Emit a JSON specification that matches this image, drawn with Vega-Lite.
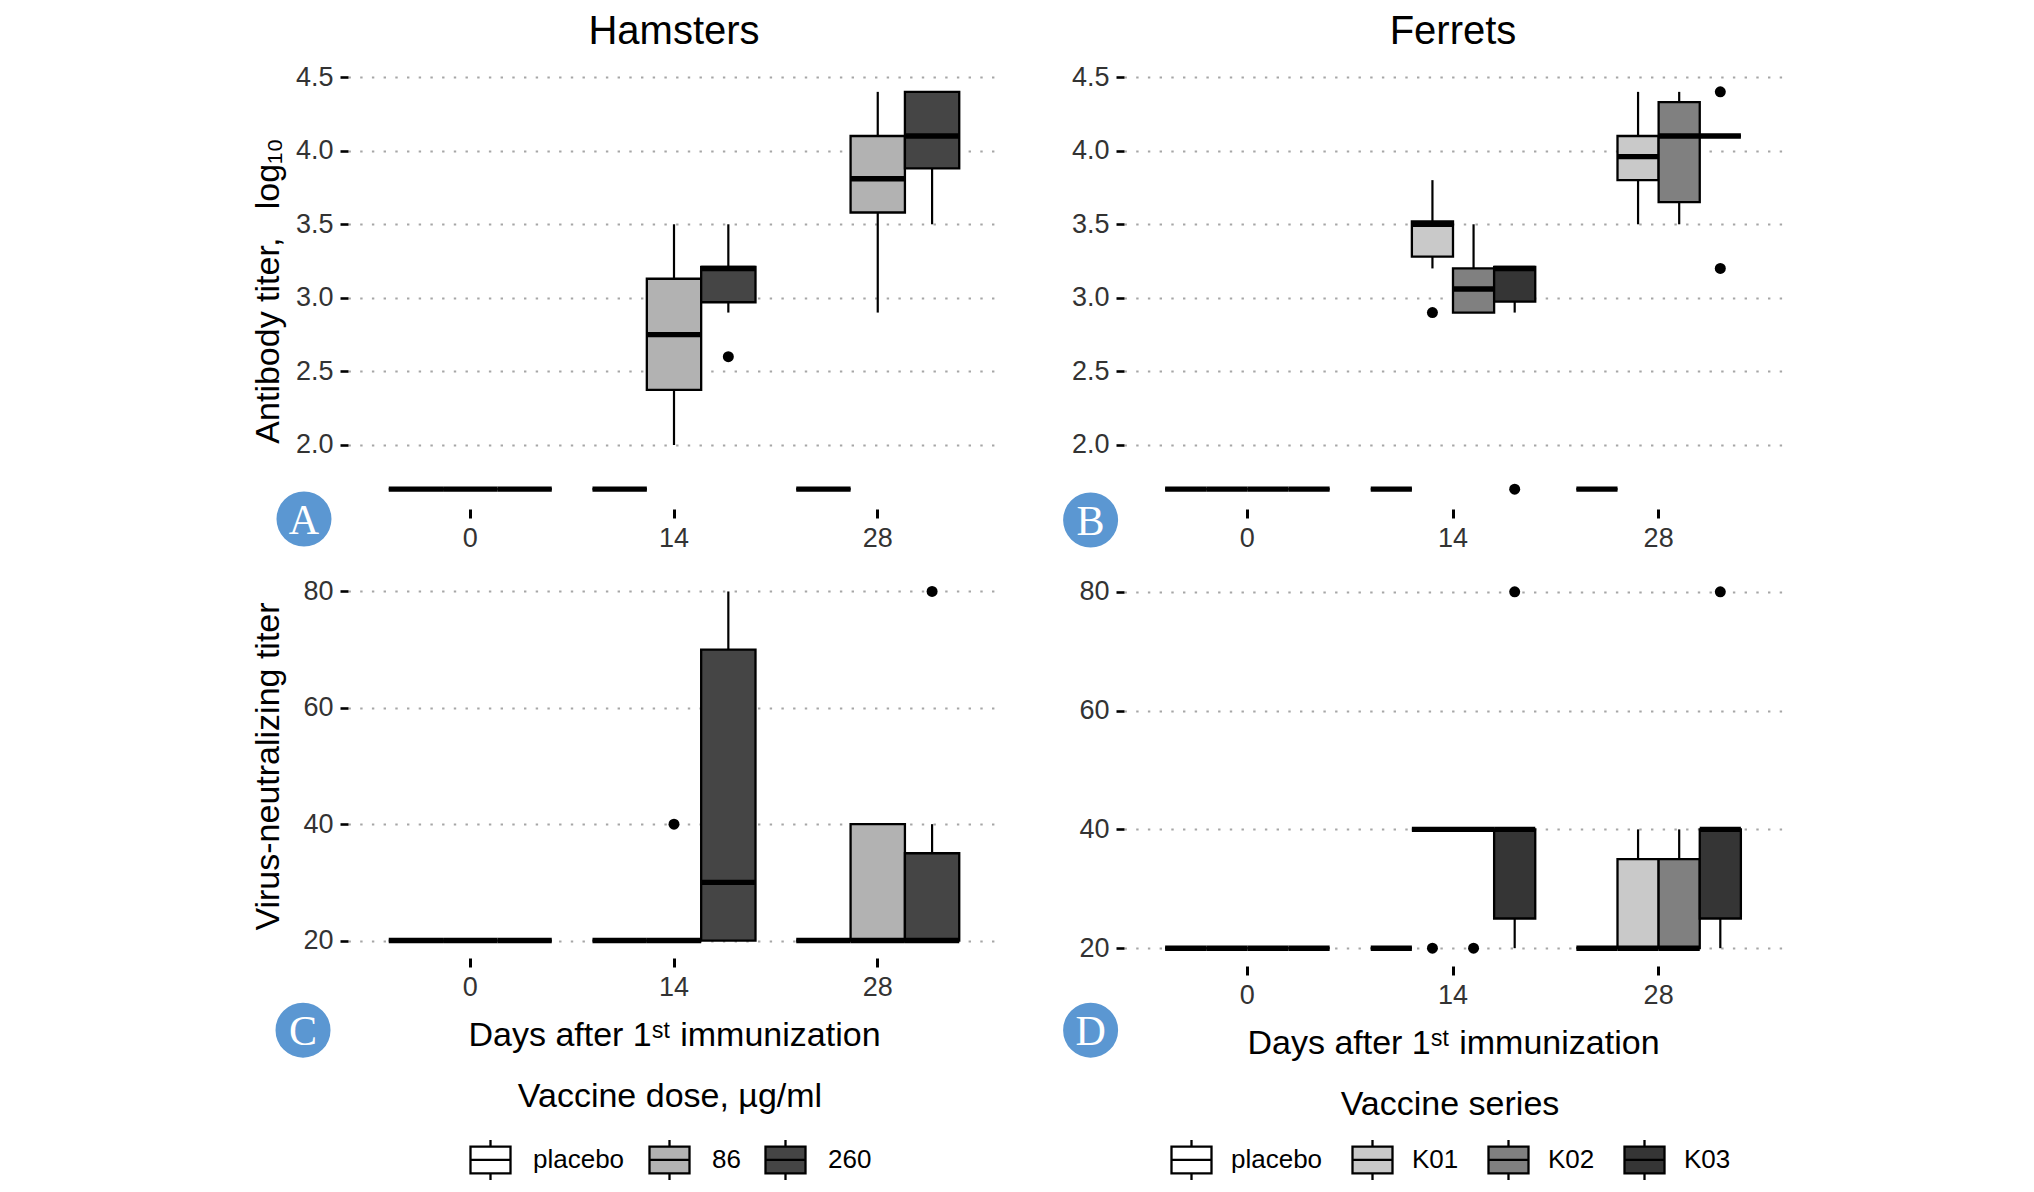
{
"$schema": "https://vega.github.io/schema/vega-lite/v6.json",
"background": "white",
"padding": {"left": 251, "top": 12, "right": 5, "bottom": 5},
"datasets": {
"stats": [
{"p":"A","day":"0","g":"placebo","lo":1.7,"q1":1.7,"med":1.7,"q3":1.7,"hi":1.7},
{"p":"A","day":"0","g":"86","lo":1.7,"q1":1.7,"med":1.7,"q3":1.7,"hi":1.7},
{"p":"A","day":"0","g":"260","lo":1.7,"q1":1.7,"med":1.7,"q3":1.7,"hi":1.7},
{"p":"A","day":"14","g":"placebo","lo":1.7,"q1":1.7,"med":1.7,"q3":1.7,"hi":1.7},
{"p":"A","day":"14","g":"86","lo":2.0,"q1":2.375,"med":2.75,"q3":3.13,"hi":3.5},
{"p":"A","day":"14","g":"260","lo":2.9,"q1":2.97,"med":3.2,"q3":3.21,"hi":3.5},
{"p":"A","day":"28","g":"placebo","lo":1.7,"q1":1.7,"med":1.7,"q3":1.7,"hi":1.7},
{"p":"A","day":"28","g":"86","lo":2.9,"q1":3.58,"med":3.81,"q3":4.1,"hi":4.4},
{"p":"A","day":"28","g":"260","lo":3.5,"q1":3.88,"med":4.1,"q3":4.4,"hi":4.4},
{"p":"B","day":"0","g":"placebo","lo":1.7,"q1":1.7,"med":1.7,"q3":1.7,"hi":1.7},
{"p":"B","day":"0","g":"K01","lo":1.7,"q1":1.7,"med":1.7,"q3":1.7,"hi":1.7},
{"p":"B","day":"0","g":"K02","lo":1.7,"q1":1.7,"med":1.7,"q3":1.7,"hi":1.7},
{"p":"B","day":"0","g":"K03","lo":1.7,"q1":1.7,"med":1.7,"q3":1.7,"hi":1.7},
{"p":"B","day":"14","g":"placebo","lo":1.7,"q1":1.7,"med":1.7,"q3":1.7,"hi":1.7},
{"p":"B","day":"14","g":"K01","lo":3.2,"q1":3.28,"med":3.5,"q3":3.52,"hi":3.8},
{"p":"B","day":"14","g":"K02","lo":2.9,"q1":2.9,"med":3.06,"q3":3.2,"hi":3.5},
{"p":"B","day":"14","g":"K03","lo":2.9,"q1":2.975,"med":3.2,"q3":3.21,"hi":3.21},
{"p":"B","day":"28","g":"placebo","lo":1.7,"q1":1.7,"med":1.7,"q3":1.7,"hi":1.7},
{"p":"B","day":"28","g":"K01","lo":3.5,"q1":3.8,"med":3.96,"q3":4.1,"hi":4.4},
{"p":"B","day":"28","g":"K02","lo":3.5,"q1":3.65,"med":4.1,"q3":4.33,"hi":4.4},
{"p":"B","day":"28","g":"K03","lo":4.1,"q1":4.1,"med":4.1,"q3":4.1,"hi":4.1},
{"p":"C","day":"0","g":"placebo","lo":20,"q1":20,"med":20,"q3":20,"hi":20},
{"p":"C","day":"0","g":"86","lo":20,"q1":20,"med":20,"q3":20,"hi":20},
{"p":"C","day":"0","g":"260","lo":20,"q1":20,"med":20,"q3":20,"hi":20},
{"p":"C","day":"14","g":"placebo","lo":20,"q1":20,"med":20,"q3":20,"hi":20},
{"p":"C","day":"14","g":"86","lo":20,"q1":20,"med":20,"q3":20,"hi":20},
{"p":"C","day":"14","g":"260","lo":20,"q1":20,"med":30,"q3":70,"hi":80},
{"p":"C","day":"28","g":"placebo","lo":20,"q1":20,"med":20,"q3":20,"hi":20},
{"p":"C","day":"28","g":"86","lo":20,"q1":20,"med":20,"q3":40,"hi":40},
{"p":"C","day":"28","g":"260","lo":20,"q1":20,"med":20,"q3":35,"hi":40},
{"p":"D","day":"0","g":"placebo","lo":20,"q1":20,"med":20,"q3":20,"hi":20},
{"p":"D","day":"0","g":"K01","lo":20,"q1":20,"med":20,"q3":20,"hi":20},
{"p":"D","day":"0","g":"K02","lo":20,"q1":20,"med":20,"q3":20,"hi":20},
{"p":"D","day":"0","g":"K03","lo":20,"q1":20,"med":20,"q3":20,"hi":20},
{"p":"D","day":"14","g":"placebo","lo":20,"q1":20,"med":20,"q3":20,"hi":20},
{"p":"D","day":"14","g":"K01","lo":40,"q1":40,"med":40,"q3":40,"hi":40},
{"p":"D","day":"14","g":"K02","lo":40,"q1":40,"med":40,"q3":40,"hi":40},
{"p":"D","day":"14","g":"K03","lo":20,"q1":25,"med":40,"q3":40,"hi":40},
{"p":"D","day":"28","g":"placebo","lo":20,"q1":20,"med":20,"q3":20,"hi":20},
{"p":"D","day":"28","g":"K01","lo":20,"q1":20,"med":20,"q3":35,"hi":40},
{"p":"D","day":"28","g":"K02","lo":20,"q1":20,"med":20,"q3":35,"hi":40},
{"p":"D","day":"28","g":"K03","lo":20,"q1":25,"med":40,"q3":40,"hi":40}
],
"out": [
{"p":"A","day":"14","g":"260","v":2.6},
{"p":"B","day":"14","g":"K01","v":2.9},
{"p":"B","day":"14","g":"K03","v":1.7},
{"p":"B","day":"28","g":"K03","v":4.4},
{"p":"B","day":"28","g":"K03","v":3.2},
{"p":"C","day":"14","g":"86","v":40},
{"p":"C","day":"28","g":"260","v":80},
{"p":"D","day":"14","g":"K01","v":20},
{"p":"D","day":"14","g":"K02","v":20},
{"p":"D","day":"14","g":"K03","v":80},
{"p":"D","day":"28","g":"K03","v":80}
],
"badges": [
{"p":"A","t":"A"},{"p":"B","t":"B"},{"p":"C","t":"C"},{"p":"D","t":"D"}
]
},
"columns": 2,
"align": "each",
"bounds": "flush",
"spacing": {"row": 65, "column": 124},
"resolve": {"scale": {"xOffset": "independent", "fill": "independent", "x": "independent", "y": "independent"}, "legend": {"fill": "independent"}},
"concat": [
{
"width": 652, "height": 437,
"title": {"text": "Hamsters"},
"layer": [
{"data":{"name":"stats"},"transform":[{"filter":"datum.p==='A'"}],"mark":{"type":"rule","color":"black","strokeWidth":2.2},
"encoding":{"x":{"field":"day","type":"nominal","scale":{"domain":["0","14","28"],"paddingInner":0.2,"paddingOuter":0.2},"axis":{"title":null}},
"xOffset":{"field":"g","type":"nominal","scale":{"domain":["placebo","86","260"],"paddingInner":0,"paddingOuter":0}},
"y":{"field":"lo","type":"quantitative","scale":{"domain":[1.565,4.535],"nice":false,"zero":false},"axis":{"values":[2,2.5,3,3.5,4,4.5],"format":".1f","title":"Antibody titer,\u00a0\u00a0\u00a0log₁₀","titlePadding":10}},
"y2":{"field":"q1"}}},
{"data":{"name":"stats"},"transform":[{"filter":"datum.p==='A'"}],"mark":{"type":"rule","color":"black","strokeWidth":2.2},
"encoding":{"x":{"field":"day","type":"nominal","scale":{"domain":["0","14","28"],"paddingInner":0.2,"paddingOuter":0.2},"axis":{"title":null}},
"xOffset":{"field":"g","type":"nominal","scale":{"domain":["placebo","86","260"],"paddingInner":0,"paddingOuter":0}},
"y":{"field":"q3","type":"quantitative","axis":{"values":[2,2.5,3,3.5,4,4.5],"format":".1f","title":"Antibody titer,\u00a0\u00a0\u00a0log₁₀","titlePadding":10}},
"y2":{"field":"hi"}}},
{"data":{"name":"stats"},"transform":[{"filter":"datum.p==='A'"}],"mark":{"type":"bar","stroke":"black","strokeWidth":2.3,"opacity":1},
"encoding":{"x":{"field":"day","type":"nominal","scale":{"domain":["0","14","28"],"paddingInner":0.2,"paddingOuter":0.2},"axis":{"title":null}},
"xOffset":{"field":"g","type":"nominal","scale":{"domain":["placebo","86","260"],"paddingInner":0,"paddingOuter":0}},
"y":{"field":"q1","type":"quantitative","axis":{"values":[2,2.5,3,3.5,4,4.5],"format":".1f","title":"Antibody titer,\u00a0\u00a0\u00a0log₁₀","titlePadding":10}},
"y2":{"field":"q3"},
"fill":{"field":"g","type":"nominal","scale":{"domain":["placebo","86","260"],"range":["#ffffff","#b2b2b2","#454545"]},"legend":null}}},
{"data":{"name":"stats"},"transform":[{"filter":"datum.p==='A'"}],"mark":{"type":"bar","fill":"transparent","stroke":"black","strokeWidth":5.4},
"encoding":{"x":{"field":"day","type":"nominal","scale":{"domain":["0","14","28"],"paddingInner":0.2,"paddingOuter":0.2},"axis":{"title":null}},
"xOffset":{"field":"g","type":"nominal","scale":{"domain":["placebo","86","260"],"paddingInner":0,"paddingOuter":0}},
"y":{"field":"med","type":"quantitative","axis":{"values":[2,2.5,3,3.5,4,4.5],"format":".1f","title":"Antibody titer,\u00a0\u00a0\u00a0log₁₀","titlePadding":10}},
"y2":{"field":"med"}}},
{"data":{"name":"out"},"transform":[{"filter":"datum.p==='A'"}],"mark":{"type":"point","filled":true,"color":"black","size":121,"opacity":1},
"encoding":{"x":{"field":"day","type":"nominal","scale":{"domain":["0","14","28"],"paddingInner":0.2,"paddingOuter":0.2},"axis":{"title":null}},
"xOffset":{"field":"g","type":"nominal","scale":{"domain":["placebo","86","260"],"paddingInner":0,"paddingOuter":0}},
"y":{"field":"v","type":"quantitative","axis":{"values":[2,2.5,3,3.5,4,4.5],"format":".1f","title":"Antibody titer,\u00a0\u00a0\u00a0log₁₀","titlePadding":10}}}},
{"data":{"name":"badges"},"transform":[{"filter":"datum.p==='A'"}],"mark":{"type":"point","filled":true,"color":"#5B97D2","size":3025,"opacity":1},
"encoding":{"x":{"datum":"0","type":"nominal","bandPosition":-0.52},"y":{"datum":1.497,"type":"quantitative"}}},
{"data":{"name":"badges"},"transform":[{"filter":"datum.p==='A'"}],"mark":{"type":"text","font":"Liberation Serif","fontSize":42,"color":"white","baseline":"middle","align":"center","dy":2},
"encoding":{"x":{"datum":"0","type":"nominal","bandPosition":-0.52},"y":{"datum":1.497,"type":"quantitative"},"text":{"field":"t"}}}
]
},
{
"width": 658, "height": 437,
"title": {"text": "Ferrets"},
"layer": [
{"data":{"name":"stats"},"transform":[{"filter":"datum.p==='B'"}],"mark":{"type":"rule","color":"black","strokeWidth":2.2},
"encoding":{"x":{"field":"day","type":"nominal","scale":{"domain":["0","14","28"],"paddingInner":0.2,"paddingOuter":0.2},"axis":{"title":null}},
"xOffset":{"field":"g","type":"nominal","scale":{"domain":["placebo","K01","K02","K03"],"paddingInner":0,"paddingOuter":0}},
"y":{"field":"lo","type":"quantitative","scale":{"domain":[1.565,4.535],"nice":false,"zero":false},"axis":{"values":[2,2.5,3,3.5,4,4.5],"format":".1f","title":null}},
"y2":{"field":"q1"}}},
{"data":{"name":"stats"},"transform":[{"filter":"datum.p==='B'"}],"mark":{"type":"rule","color":"black","strokeWidth":2.2},
"encoding":{"x":{"field":"day","type":"nominal","scale":{"domain":["0","14","28"],"paddingInner":0.2,"paddingOuter":0.2},"axis":{"title":null}},
"xOffset":{"field":"g","type":"nominal","scale":{"domain":["placebo","K01","K02","K03"],"paddingInner":0,"paddingOuter":0}},
"y":{"field":"q3","type":"quantitative","axis":{"values":[2,2.5,3,3.5,4,4.5],"format":".1f","title":null}},
"y2":{"field":"hi"}}},
{"data":{"name":"stats"},"transform":[{"filter":"datum.p==='B'"}],"mark":{"type":"bar","stroke":"black","strokeWidth":2.3,"opacity":1},
"encoding":{"x":{"field":"day","type":"nominal","scale":{"domain":["0","14","28"],"paddingInner":0.2,"paddingOuter":0.2},"axis":{"title":null}},
"xOffset":{"field":"g","type":"nominal","scale":{"domain":["placebo","K01","K02","K03"],"paddingInner":0,"paddingOuter":0}},
"y":{"field":"q1","type":"quantitative","axis":{"values":[2,2.5,3,3.5,4,4.5],"format":".1f","title":null}},
"y2":{"field":"q3"},
"fill":{"field":"g","type":"nominal","scale":{"domain":["placebo","K01","K02","K03"],"range":["#ffffff","#c9c9c9","#808080","#353535"]},"legend":null}}},
{"data":{"name":"stats"},"transform":[{"filter":"datum.p==='B'"}],"mark":{"type":"bar","fill":"transparent","stroke":"black","strokeWidth":5.4},
"encoding":{"x":{"field":"day","type":"nominal","scale":{"domain":["0","14","28"],"paddingInner":0.2,"paddingOuter":0.2},"axis":{"title":null}},
"xOffset":{"field":"g","type":"nominal","scale":{"domain":["placebo","K01","K02","K03"],"paddingInner":0,"paddingOuter":0}},
"y":{"field":"med","type":"quantitative","axis":{"values":[2,2.5,3,3.5,4,4.5],"format":".1f","title":null}},
"y2":{"field":"med"}}},
{"data":{"name":"out"},"transform":[{"filter":"datum.p==='B'"}],"mark":{"type":"point","filled":true,"color":"black","size":121,"opacity":1},
"encoding":{"x":{"field":"day","type":"nominal","scale":{"domain":["0","14","28"],"paddingInner":0.2,"paddingOuter":0.2},"axis":{"title":null}},
"xOffset":{"field":"g","type":"nominal","scale":{"domain":["placebo","K01","K02","K03"],"paddingInner":0,"paddingOuter":0}},
"y":{"field":"v","type":"quantitative","axis":{"values":[2,2.5,3,3.5,4,4.5],"format":".1f","title":null}}}},
{"data":{"name":"badges"},"transform":[{"filter":"datum.p==='B'"}],"mark":{"type":"point","filled":true,"color":"#5B97D2","size":3025,"opacity":1},
"encoding":{"x":{"datum":"0","type":"nominal","bandPosition":-0.453},"y":{"datum":1.49,"type":"quantitative"}}},
{"data":{"name":"badges"},"transform":[{"filter":"datum.p==='B'"}],"mark":{"type":"text","font":"Liberation Serif","fontSize":42,"color":"white","baseline":"middle","align":"center","dy":2},
"encoding":{"x":{"datum":"0","type":"nominal","bandPosition":-0.453},"y":{"datum":1.49,"type":"quantitative"},"text":{"field":"t"}}}
]
},
{
"width": 652, "height": 384,
"layer": [
{"data":{"name":"stats"},"transform":[{"filter":"datum.p==='C'"}],"mark":{"type":"rule","color":"black","strokeWidth":2.2},
"encoding":{"x":{"field":"day","type":"nominal","scale":{"domain":["0","14","28"],"paddingInner":0.2,"paddingOuter":0.2},"axis":{"title":"Days after 1ˢᵗ immunization"}},
"xOffset":{"field":"g","type":"nominal","scale":{"domain":["placebo","86","260"],"paddingInner":0,"paddingOuter":0}},
"y":{"field":"lo","type":"quantitative","scale":{"domain":[17,83],"nice":false,"zero":false},"axis":{"values":[20,40,60,80],"title":"Virus-neutralizing titer","titlePadding":17}},
"y2":{"field":"q1"}}},
{"data":{"name":"stats"},"transform":[{"filter":"datum.p==='C'"}],"mark":{"type":"rule","color":"black","strokeWidth":2.2},
"encoding":{"x":{"field":"day","type":"nominal","scale":{"domain":["0","14","28"],"paddingInner":0.2,"paddingOuter":0.2},"axis":{"title":"Days after 1ˢᵗ immunization"}},
"xOffset":{"field":"g","type":"nominal","scale":{"domain":["placebo","86","260"],"paddingInner":0,"paddingOuter":0}},
"y":{"field":"q3","type":"quantitative","axis":{"values":[20,40,60,80],"title":"Virus-neutralizing titer","titlePadding":17}},
"y2":{"field":"hi"}}},
{"data":{"name":"stats"},"transform":[{"filter":"datum.p==='C'"}],"mark":{"type":"bar","stroke":"black","strokeWidth":2.3,"opacity":1},
"encoding":{"x":{"field":"day","type":"nominal","scale":{"domain":["0","14","28"],"paddingInner":0.2,"paddingOuter":0.2},"axis":{"title":"Days after 1ˢᵗ immunization"}},
"xOffset":{"field":"g","type":"nominal","scale":{"domain":["placebo","86","260"],"paddingInner":0,"paddingOuter":0}},
"y":{"field":"q1","type":"quantitative","axis":{"values":[20,40,60,80],"title":"Virus-neutralizing titer","titlePadding":17}},
"y2":{"field":"q3"},
"fill":{"field":"g","type":"nominal","scale":{"domain":["placebo","86","260"],"range":["#ffffff","#b2b2b2","#454545"]},
"legend":{"title":"Vaccine dose, µg/ml","orient":"none","legendX":121,"legendY":506,"direction":"horizontal","titleAnchor":"middle","titleOrient":"top","titlePadding":24,"titleLimit":2000,"titleFontSize":34,"titleFont":"Liberation Sans","titleFontWeight":"normal","titleColor":"black","labelFontSize":26,"labelFont":"Liberation Sans","labelColor":"black","labelOffset":21,"labelLimit":500,"columnPadding":19,"symbolType":"M-1,-0.667H1V0.667H-1Z M-1,0H1 M0,-0.667V-1 M0,0.667V1","symbolSize":1600,"symbolStrokeColor":"black","symbolStrokeWidth":2.3,"symbolOpacity":1,"padding":0}}}},
{"data":{"name":"stats"},"transform":[{"filter":"datum.p==='C'"}],"mark":{"type":"bar","fill":"transparent","stroke":"black","strokeWidth":5.4},
"encoding":{"x":{"field":"day","type":"nominal","scale":{"domain":["0","14","28"],"paddingInner":0.2,"paddingOuter":0.2},"axis":{"title":"Days after 1ˢᵗ immunization"}},
"xOffset":{"field":"g","type":"nominal","scale":{"domain":["placebo","86","260"],"paddingInner":0,"paddingOuter":0}},
"y":{"field":"med","type":"quantitative","axis":{"values":[20,40,60,80],"title":"Virus-neutralizing titer","titlePadding":17}},
"y2":{"field":"med"}}},
{"data":{"name":"out"},"transform":[{"filter":"datum.p==='C'"}],"mark":{"type":"point","filled":true,"color":"black","size":121,"opacity":1},
"encoding":{"x":{"field":"day","type":"nominal","scale":{"domain":["0","14","28"],"paddingInner":0.2,"paddingOuter":0.2},"axis":{"title":"Days after 1ˢᵗ immunization"}},
"xOffset":{"field":"g","type":"nominal","scale":{"domain":["placebo","86","260"],"paddingInner":0,"paddingOuter":0}},
"y":{"field":"v","type":"quantitative","axis":{"values":[20,40,60,80],"title":"Virus-neutralizing titer","titlePadding":17}}}},
{"data":{"name":"badges"},"transform":[{"filter":"datum.p==='C'"}],"mark":{"type":"point","filled":true,"color":"#5B97D2","size":3025,"opacity":1},
"encoding":{"x":{"datum":"0","type":"nominal","bandPosition":-0.526},"y":{"datum":4.6,"type":"quantitative"}}},
{"data":{"name":"badges"},"transform":[{"filter":"datum.p==='C'"}],"mark":{"type":"text","font":"Liberation Serif","fontSize":42,"color":"white","baseline":"middle","align":"center","dy":2},
"encoding":{"x":{"datum":"0","type":"nominal","bandPosition":-0.526},"y":{"datum":4.6,"type":"quantitative"},"text":{"field":"t"}}}
]
},
{
"width": 658, "height": 392,
"layer": [
{"data":{"name":"stats"},"transform":[{"filter":"datum.p==='D'"}],"mark":{"type":"rule","color":"black","strokeWidth":2.2},
"encoding":{"x":{"field":"day","type":"nominal","scale":{"domain":["0","14","28"],"paddingInner":0.2,"paddingOuter":0.2},"axis":{"title":"Days after 1ˢᵗ immunization"}},
"xOffset":{"field":"g","type":"nominal","scale":{"domain":["placebo","K01","K02","K03"],"paddingInner":0,"paddingOuter":0}},
"y":{"field":"lo","type":"quantitative","scale":{"domain":[17,83],"nice":false,"zero":false},"axis":{"values":[20,40,60,80],"title":null}},
"y2":{"field":"q1"}}},
{"data":{"name":"stats"},"transform":[{"filter":"datum.p==='D'"}],"mark":{"type":"rule","color":"black","strokeWidth":2.2},
"encoding":{"x":{"field":"day","type":"nominal","scale":{"domain":["0","14","28"],"paddingInner":0.2,"paddingOuter":0.2},"axis":{"title":"Days after 1ˢᵗ immunization"}},
"xOffset":{"field":"g","type":"nominal","scale":{"domain":["placebo","K01","K02","K03"],"paddingInner":0,"paddingOuter":0}},
"y":{"field":"q3","type":"quantitative","axis":{"values":[20,40,60,80],"title":null}},
"y2":{"field":"hi"}}},
{"data":{"name":"stats"},"transform":[{"filter":"datum.p==='D'"}],"mark":{"type":"bar","stroke":"black","strokeWidth":2.3,"opacity":1},
"encoding":{"x":{"field":"day","type":"nominal","scale":{"domain":["0","14","28"],"paddingInner":0.2,"paddingOuter":0.2},"axis":{"title":"Days after 1ˢᵗ immunization"}},
"xOffset":{"field":"g","type":"nominal","scale":{"domain":["placebo","K01","K02","K03"],"paddingInner":0,"paddingOuter":0}},
"y":{"field":"q1","type":"quantitative","axis":{"values":[20,40,60,80],"title":null}},
"y2":{"field":"q3"},
"fill":{"field":"g","type":"nominal","scale":{"domain":["placebo","K01","K02","K03"],"range":["#ffffff","#c9c9c9","#808080","#353535"]},
"legend":{"title":"Vaccine series","orient":"none","legendX":46,"legendY":514,"direction":"horizontal","titleAnchor":"middle","titleOrient":"top","titlePadding":16,"titleLimit":2000,"titleFontSize":34,"titleFont":"Liberation Sans","titleFontWeight":"normal","titleColor":"black","labelFontSize":26,"labelFont":"Liberation Sans","labelColor":"black","labelOffset":18,"labelLimit":500,"columnPadding":24,"symbolType":"M-1,-0.667H1V0.667H-1Z M-1,0H1 M0,-0.667V-1 M0,0.667V1","symbolSize":1600,"symbolStrokeColor":"black","symbolStrokeWidth":2.3,"symbolOpacity":1,"padding":0}}}},
{"data":{"name":"stats"},"transform":[{"filter":"datum.p==='D'"}],"mark":{"type":"bar","fill":"transparent","stroke":"black","strokeWidth":5.4},
"encoding":{"x":{"field":"day","type":"nominal","scale":{"domain":["0","14","28"],"paddingInner":0.2,"paddingOuter":0.2},"axis":{"title":"Days after 1ˢᵗ immunization"}},
"xOffset":{"field":"g","type":"nominal","scale":{"domain":["placebo","K01","K02","K03"],"paddingInner":0,"paddingOuter":0}},
"y":{"field":"med","type":"quantitative","axis":{"values":[20,40,60,80],"title":null}},
"y2":{"field":"med"}}},
{"data":{"name":"out"},"transform":[{"filter":"datum.p==='D'"}],"mark":{"type":"point","filled":true,"color":"black","size":121,"opacity":1},
"encoding":{"x":{"field":"day","type":"nominal","scale":{"domain":["0","14","28"],"paddingInner":0.2,"paddingOuter":0.2},"axis":{"title":"Days after 1ˢᵗ immunization"}},
"xOffset":{"field":"g","type":"nominal","scale":{"domain":["placebo","K01","K02","K03"],"paddingInner":0,"paddingOuter":0}},
"y":{"field":"v","type":"quantitative","axis":{"values":[20,40,60,80],"title":null}}}},
{"data":{"name":"badges"},"transform":[{"filter":"datum.p==='D'"}],"mark":{"type":"point","filled":true,"color":"#5B97D2","size":3025,"opacity":1},
"encoding":{"x":{"datum":"0","type":"nominal","bandPosition":-0.453},"y":{"datum":6.2,"type":"quantitative"}}},
{"data":{"name":"badges"},"transform":[{"filter":"datum.p==='D'"}],"mark":{"type":"text","font":"Liberation Serif","fontSize":42,"color":"white","baseline":"middle","align":"center","dy":2},
"encoding":{"x":{"datum":"0","type":"nominal","bandPosition":-0.453},"y":{"datum":6.2,"type":"quantitative"},"text":{"field":"t"}}}
]
}
],
"config": {
"font": "Liberation Sans",
"view": {"stroke": null},
"axis": {"domain": false, "labelFont": "Liberation Sans", "labelFontSize": 27, "labelColor": "#333333", "tickColor": "black", "titleFont": "Liberation Sans", "titleFontSize": 34, "titleFontWeight": "normal", "titleColor": "black"},
"axisY": {"grid": true, "gridColor": "#a6a6a6", "gridDash": [2.4, 9.3], "gridWidth": 2.2, "tickSize": 8, "tickWidth": 2.6, "labelPadding": 7},
"axisX": {"grid": false, "tickSize": 9, "tickWidth": 3, "labelPadding": 7, "titlePadding": 18, "labelAngle": 0},
"title": {"font": "Liberation Sans", "fontSize": 40, "fontWeight": "normal", "color": "black", "offset": 11, "frame": "group", "anchor": "middle"}
}
}
